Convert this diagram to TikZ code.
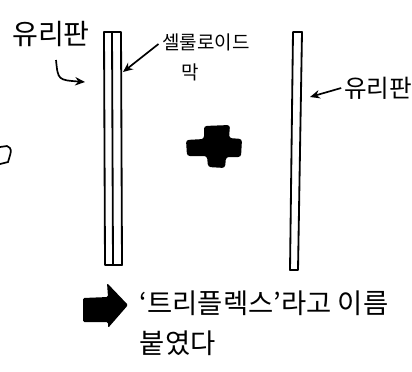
\documentclass[tikz,border=0pt]{standalone}
\usepackage{fontspec}
\setmainfont{Noto Sans CJK KR}
\usetikzlibrary{arrows.meta, positioning}

\begin{document}
\begin{tikzpicture}[x=0.025cm,y=-0.025cm,>={Stealth[length=7pt,width=6pt]},line width=1.2pt,
    txt/.style={inner sep=0pt, font=\fontsize{20}{24}\selectfont},
    small/.style={inner sep=0pt, font=\fontsize{13.5}{16}\selectfont},
    plate/.style={draw, line width=1.3pt, line join=round}]
    \useasboundingbox (0,0) rectangle (412,371);

    % labels
    \node[txt] (glassL) at (51,34) {유리판};
    \node[small] (cellu) at (206,42) {셀룰로이드};
    \node[small] (mak) at (190,72) {막};
    \node[txt, font=\fontsize{17.5}{20}\selectfont] (glassR) at (378,88) {유리판};
    \node[txt, anchor=north west, align=left, font=\fontsize{19.5}{28.5}\selectfont] (note) at (139,290) {‘트리플렉스’라고 이름\\붙였다};

    % plates
    \draw[plate] (104,32) -- (121,32) -- (122,265) -- (105,265) -- cycle;
    \draw[plate] (112,32) -- (113,265);
    \draw[plate] (293,32) -- (302,32) -- (298,270) -- (290,270) -- cycle;
    \coordinate (pL) at (85,82);
    \coordinate (pC) at (123,72);
    \coordinate (pR) at (310,97);

    % pointers
    \draw[->] (56,60) .. controls (58,80) .. (pL);
    \draw[->] (cellu.west) ++(-3,2) -- (pC);
    \draw[->] (glassR.west) ++(-2,0) -- (pR);

    % plus
    \fill[rounded corners=2pt] (204,126) -- (230,125) -- (229,138) -- (242,139) -- (241,157)
        -- (226,157) -- (225,168) -- (208,167) -- (207,156) -- (187,156) -- (186,140)
        -- (204,139) -- cycle;

    % big arrow
    \fill[rounded corners=1pt] (83,298) -- (108,297) -- (107,283) -- (128,305) -- (108,328)
        -- (108,322) -- (83,322) -- cycle;

    % edge fragment
    \draw (0,147) -- (7,146) .. controls (12,149) .. (8,162) -- (0,164);
\end{tikzpicture}
\end{document}
